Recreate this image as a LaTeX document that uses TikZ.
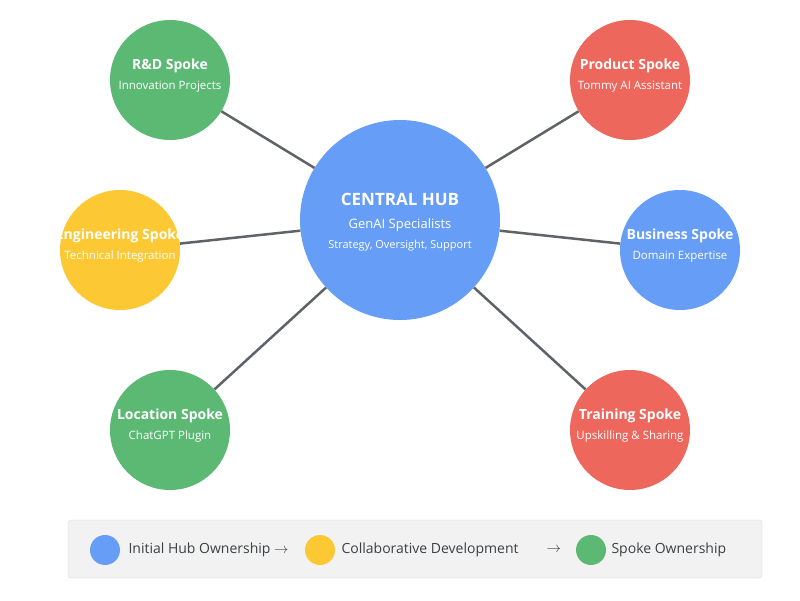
\documentclass[tikz,border=0pt]{standalone}
\usepackage{fontspec}
\setmainfont{Open Sans}
\definecolor{gblue}{HTML}{669DF6}
\definecolor{ggreen}{HTML}{5BB974}
\definecolor{gyellow}{HTML}{FCC934}
\definecolor{gred}{HTML}{EE675C}
\definecolor{gline}{HTML}{5F6368}
\definecolor{gtext}{HTML}{3C4043}
\begin{document}
\begin{tikzpicture}[x=1pt,y=-1pt,
  spoke/.style={circle,draw=none,minimum size=120pt,inner sep=0},
  ttl/.style={text=white,font=\fontsize{14}{16}\selectfont\bfseries},
  sub/.style={text=white,font=\fontsize{11.5}{14}\selectfont},
  conn/.style={draw=gline,line width=2.5pt},
  leg/.style={circle,minimum size=30pt,inner sep=0},
  legt/.style={text=gtext,font=\fontsize{14}{16}\selectfont,anchor=west}]
\useasboundingbox (0,0) rectangle (800,600);
\node[spoke,fill=gblue,minimum size=200pt] (hub) at (400,220) {};
\node[spoke,fill=ggreen] (rd) at (170,80) {};
\node[spoke,fill=gred] (prod) at (630,80) {};
\node[spoke,fill=gyellow] (eng) at (120,250) {};
\node[spoke,fill=gblue] (bus) at (680,250) {};
\node[spoke,fill=ggreen] (loc) at (170,430) {};
\node[spoke,fill=gred] (tr) at (630,430) {};
\foreach \s in {rd,prod,eng,bus,loc,tr} \draw[conn] (hub) -- (\s);
\node[ttl,font=\fontsize{17}{20}\selectfont\bfseries] (h1) at (400,199) {CENTRAL HUB};
\node[sub,font=\fontsize{13}{15}\selectfont] (h2) at (400,225) {GenAI Specialists};
\node[sub,font=\fontsize{11}{13}\selectfont] (h3) at (400,246) {Strategy, Oversight, Support};
\node[ttl] (t1) at (170,66) {R\&D Spoke};
\node[sub] (s1) at (170,87) {Innovation Projects};
\node[ttl] (t2) at (630,66) {Product Spoke};
\node[sub] (s2) at (630,87) {Tommy AI Assistant};
\node[ttl] (t3) at (120,236) {Engineering Spoke};
\node[sub] (s3) at (120,257) {Technical Integration};
\node[ttl] (t4) at (680,236) {Business Spoke};
\node[sub] (s4) at (680,257) {Domain Expertise};
\node[ttl] (t5) at (170,416) {Location Spoke};
\node[sub] (s5) at (170,437) {ChatGPT Plugin};
\node[ttl] (t6) at (630,416) {Training Spoke};
\node[sub] (s6) at (630,437) {Upskilling \& Sharing};
\node[draw=black!15,fill=black!5,rounded corners=3pt,minimum width=694pt,minimum height=58pt,inner sep=0] (legend) at (415,549) {};
\node[leg,fill=gblue] (l1) at (105,550) {};
\node[legt] (lt1) at (125,550) {Initial Hub Ownership $\rightarrow$};
\node[leg,fill=gyellow] (l2) at (320,550) {};
\node[legt] (lt2) at (338,550) {Collaborative Development};
\node[legt] (arr) at (543,550) {$\rightarrow$};
\node[leg,fill=ggreen] (l3) at (591,550) {};
\node[legt] (lt3) at (608,550) {Spoke Ownership};
\end{tikzpicture}
\end{document}
